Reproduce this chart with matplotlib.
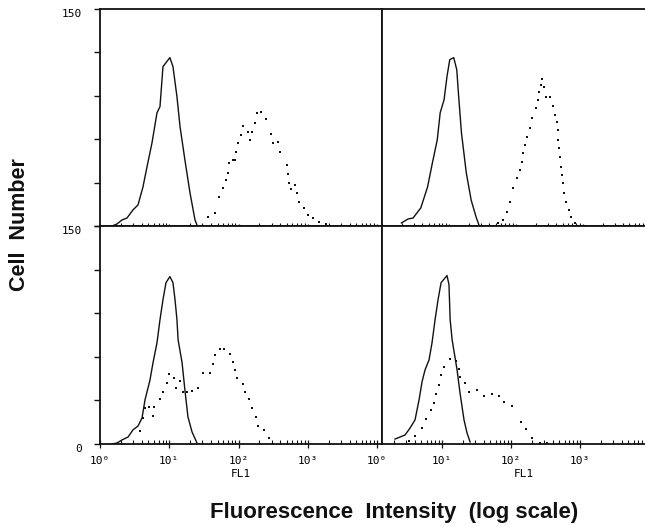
"""Flow cytometry histograms: control vs stained cells, 2x2 panels"""

import numpy as np
import matplotlib

matplotlib.use("Agg")
import matplotlib.pyplot as plt
from matplotlib.ticker import LogLocator, NullFormatter

# ---- data (FL1 intensity, cell count) ----
# top-left
tl_ctrl_x = [1.49, 1.76, 2.08, 2.45, 2.99, 3.54, 4.17, 4.77, 5.63, 6.65, 7.34, 8.11,
             10.2, 11.3, 12.9, 14.3, 16.8, 19.9, 23.5, 25.1]
tl_ctrl_y = [0, 1.4, 4.2, 5.5, 11.1, 14.6, 27.0, 40.9, 57.5, 78.3, 82.5, 110.2,
             116.4, 110.2, 89.4, 68.6, 45.7, 22.9, 4.2, 0.7]
tl_stain_x = [36.2, 45.6, 52.1, 59.6, 65.8, 70.3, 72.6, 83.0, 88.7, 91.7, 98.0, 108,
              116, 137, 146, 156, 173, 184, 210, 248, 294, 314, 370, 396, 499, 516,
              534, 570, 651, 696, 744, 879, 1003, 1186, 1446, 1824, 2301]
tl_stain_y = [6.2, 9.0, 20.1, 26.3, 31.9, 36.7, 43.7, 45.7, 45.7, 51.3, 57.5, 63.1,
              69.3, 65.1, 59.6, 65.1, 71.4, 78.3, 79.0, 74.2, 63.8, 57.5, 58.2, 51.3,
              42.3, 36.0, 29.8, 25.6, 28.4, 22.9, 16.6, 12.5, 7.6, 5.5, 2.8, 1.4, 0]

# top-right
tr_ctrl_x = [1.95, 2.46, 2.91, 3.80, 4.80, 5.67, 6.70, 7.41, 8.47, 9.35, 10.3, 11.8,
             13.1, 14.0, 15.4, 18.2, 21.5, 25.5, 28.1]
tr_ctrl_y = [2.1, 4.9, 5.5, 12.5, 27.0, 43.7, 59.6, 78.3, 87.3, 103.2, 115.0, 116.4,
             108.1, 89.4, 64.4, 36.7, 18.0, 6.2, 0.7]
tr_stain_x = [54.8, 64.8, 74.1, 81.8, 90.5, 103, 114, 122, 126, 135, 149, 165, 176,
              201, 215, 223, 238, 246, 263, 281, 321, 356, 380, 406, 420, 434, 449,
              464, 480, 496, 513, 531, 567, 627, 670, 766]
tr_stain_y = [2.1, 4.2, 9.7, 16.6, 26.3, 33.3, 38.8, 44.3, 50.6, 56.1, 61.6, 67.9,
              74.8, 81.8, 87.3, 92.8, 97.7, 101.8, 96.3, 89.4, 89.4, 83.1, 76.9, 72.1,
              66.5, 59.6, 54.0, 47.8, 40.9, 35.3, 29.8, 22.9, 16.6, 11.1, 6.2, 2.1]

# bottom-left
bl_ctrl_x = [1.49, 1.76, 2.08, 2.54, 2.99, 3.54, 4.04, 4.46, 5.27, 5.82, 6.65, 7.34,
             8.11, 8.96, 10.2, 11.3, 12.1, 12.9, 13.4, 15.3, 16.8, 18.6, 21.3, 25.1]
bl_ctrl_y = [0, 0.7, 2.8, 4.8, 9.7, 12.4, 17.9, 30.3, 44.1, 55.9, 69.7, 85.5,
             99.3, 111.0, 115.2, 111.0, 99.3, 85.5, 71.7, 55.9, 37.2, 18.6, 8.3, 0.7]
bl_stain_x = [3.78, 4.17, 4.46, 5.09, 5.82, 6.01, 7.34, 8.11, 9.27, 9.91, 11.7, 12.5,
              14.3, 15.8, 18.0, 21.3, 25.9, 30.6, 38.7, 42.8, 45.6, 53.9, 61.5, 75.2,
              83.0, 88.7, 94.8, 116, 124, 141, 156, 178, 191, 233, 275]
bl_stain_y = [9.0, 17.9, 24.8, 25.5, 19.3, 25.5, 31.0, 35.9, 42.1, 48.3, 45.5, 38.6,
              43.4, 35.9, 35.9, 36.6, 38.6, 49.0, 49.0, 55.2, 61.4, 65.5, 65.5, 62.1,
              56.6, 51.0, 45.5, 41.4, 35.9, 31.0, 24.8, 18.6, 12.4, 9.7, 4.1]

# bottom-right
br_ctrl_x = [2.08, 2.46, 2.91, 3.44, 4.06, 4.64, 5.13, 5.67, 6.48, 7.16, 7.92, 8.75,
             9.68, 11.8, 12.6, 13.1, 14.0, 16.5, 18.2, 20.8, 23.0, 25.5]
br_ctrl_y = [3.4, 4.8, 6.2, 11.0, 16.6, 30.3, 42.8, 51.0, 57.9, 69.7, 85.5, 99.3,
             111.0, 115.9, 109.7, 85.5, 71.7, 51.0, 35.2, 16.6, 7.6, 1.4]
br_stain_x = [3.32, 4.06, 5.13, 5.86, 6.93, 7.66, 8.19, 9.05, 9.68, 10.7, 13.1, 16.0,
              17.6, 18.2, 21.5, 24.6, 32.2, 40.6, 53.1, 67.0, 79.2, 103, 140, 165,
              201, 263, 333]
br_stain_y = [2.1, 5.5, 11.0, 17.2, 23.4, 28.3, 34.5, 40.7, 47.6, 53.1, 58.6, 57.2,
              51.7, 46.2, 42.1, 35.9, 37.2, 33.1, 34.5, 33.1, 29.0, 26.2, 15.2, 10.3,
              4.1, 0.7, 0.7]

y_ticks = [0, 30, 60, 90, 120, 150]
left_xticks = [1, 10, 100, 1000, 10000]
left_xlabels = ["10\u2070", "10\u00b9", "10\u00b2", "10\u00b3", "10\u2070"]
right_xticks = [10, 100, 1000, 10000]
right_xlabels = ["10\u00b9", "10\u00b2", "10\u00b3", ""]

W, H = 645, 527
fig = plt.figure(figsize=(W / 100, H / 100), dpi=100)
tick_font = {"family": "DejaVu Sans Mono", "size": 8}
ink = "#111111"


def box(x0, ytop, w, h):
    # pixel box -> figure fraction
    return [x0 / W, 1 - (ytop + h) / H, w / W, h / H]


def make_panel(rect, xlim, left, bottom):
    ax = fig.add_axes(rect)
    ax.set_xscale("log")
    ax.set_xlim(*xlim)
    ax.set_ylim(0, 150)
    for s in ax.spines.values():
        s.set_linewidth(1.3)
        s.set_color(ink)
    ax.xaxis.set_minor_locator(LogLocator(base=10, subs=np.arange(2, 10)))
    ax.xaxis.set_minor_formatter(NullFormatter())
    ax.tick_params(axis="x", which="minor", direction="in", length=3 if bottom else 2,
                   width=0.8, color=ink)
    ax.tick_params(axis="x", which="major", direction="inout", length=6 if bottom else 3,
                   width=0.9, color=ink, pad=6, labelbottom=bottom)
    if left:
        ax.set_yticks(y_ticks)
        ax.tick_params(axis="y", direction="out", length=4, width=1.0, color=ink, pad=9)
    else:
        ax.tick_params(axis="y", left=False, labelleft=False)
    return ax


ax_tl = make_panel(box(100, 9, 282, 217), (1, 10 ** 4.07), True, False)
ax_tr = make_panel(box(382, 9, 283, 217), (10 ** 0.13, 10 ** 4.23), False, False)
ax_bl = make_panel(box(100, 226, 282, 218), (1, 10 ** 4.07), True, True)
ax_br = make_panel(box(382, 226, 283, 218), (10 ** 0.13, 10 ** 4.23), False, True)

ax_tl.set_yticklabels(["", "", "", "", "", "150"], fontdict=tick_font)
ax_bl.set_yticklabels(["0", "", "", "", "", "150"], fontdict=tick_font)
for ax in (ax_tl, ax_bl):
    for lbl in ax.get_yticklabels():
        lbl.set_va("top")

ax_bl.set_xticks(left_xticks)
ax_bl.set_xticklabels(left_xlabels, fontdict=tick_font)
ax_br.set_xticks(right_xticks)
ax_br.set_xticklabels(right_xlabels, fontdict=tick_font)
for ax in (ax_tl, ax_tr):
    ax.set_xticks(left_xticks)
for ax in (ax_bl, ax_br):
    ax.set_xlabel("FL1", fontdict=tick_font, labelpad=2)

# histograms: solid = control, dotted = stained
panels = [
    (ax_tl, tl_ctrl_x, tl_ctrl_y, tl_stain_x, tl_stain_y),
    (ax_tr, tr_ctrl_x, tr_ctrl_y, tr_stain_x, tr_stain_y),
    (ax_bl, bl_ctrl_x, bl_ctrl_y, bl_stain_x, bl_stain_y),
    (ax_br, br_ctrl_x, br_ctrl_y, br_stain_x, br_stain_y),
]
for ax, cx, cy, sx, sy in panels:
    ax.plot(cx, cy, color=ink, linewidth=1.0)
    ax.plot(sx, sy, linestyle="none", marker="s", markersize=1.7, markeredgewidth=0,
            color=ink)

fig.text(0.031, 0.573, "Cell  Number", rotation=90, ha="center", va="center",
         family="Liberation Sans", weight="bold", fontsize=15.5, color=ink)
fig.text(0.611, 0.028, "Fluorescence  Intensity  (log scale)", ha="center",
         va="center", family="Liberation Sans", weight="bold", fontsize=16, color=ink)

plt.savefig("out.png", dpi=100)
